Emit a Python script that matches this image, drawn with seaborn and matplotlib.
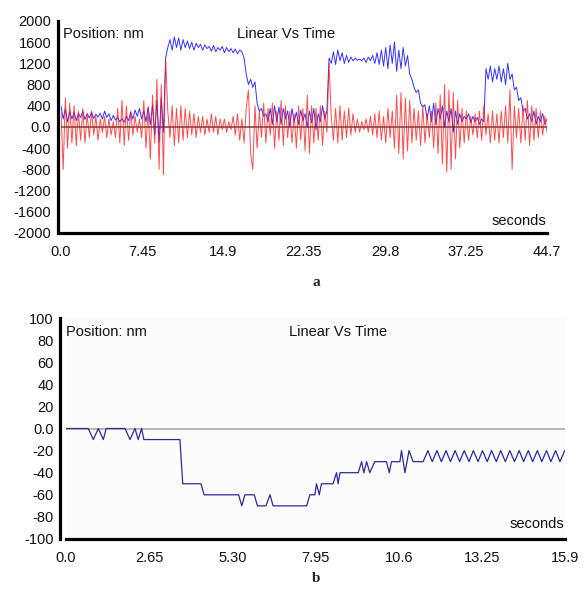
import numpy as np
import pandas as pd
import matplotlib
matplotlib.use('Agg')
import matplotlib.pyplot as plt
import seaborn as sns

# --- panel a: samples (one every ~0.2 s) ---
blue_a = [400, 150, 350, 100, 300, 150, 280, 120, 260, 180,
          300, 140, 250, 170, 280, 160, 240, 190, 260, 150,
          300, 180, 250, 120, 220, 130, 180, 100, 160, 90,
          200, 120, 280, 150, 320, 200, 350, 150, 300, 100,
          380, 50, 420, -150, 500, -300, 550, -100, 1300,
          1500, 1650, 1450, 1700, 1500, 1680, 1450, 1650, 1500, 1620,
          1480, 1600, 1450, 1580, 1500, 1560, 1450, 1550, 1480, 1520,
          1430, 1540, 1420, 1500, 1450, 1520, 1400, 1500, 1420, 1480,
          1400, 1470, 1380, 1450, 1420, 1300, 1000, 800, 900, 750,
          850, 450, 300, 350, 200, 250, 100, 350, 50, 400,
          100, 380, 50, 350, 150, 300, 0, 350, 100, 280,
          50, 320, 120, 250, 0, 300, 80, 350, -50, 250,
          100, 400, 150, 300, 1300,
          1200, 1420, 1180, 1450, 1250, 1400, 1200, 1350, 1220, 1320,
          1250, 1300, 1260, 1280, 1250, 1300, 1220, 1320, 1250, 1350,
          1200, 1400, 1180, 1450, 1150, 1500, 1100, 1550, 1200, 1600,
          1050, 1450, 1100, 1500, 1150, 1350, 1000, 900, 750, 650,
          700, 450, 380, 420, 150, 400, 100, 450, 50, 350,
          150, 400, 0, 300, 100, 350, -100, 300, 50, 250,
          100, 200, 150, 250, 80, 200, 100, 180, 50, 150,
          100, 1100,
          900, 1150, 850, 1100, 900, 1150, 850, 1100, 800, 1200,
          900, 1000, 700, 750, 500, 550, 300, 350, 150, 250,
          100, 300, 50, 200, 100, 250, 50, 150]

red_a = [300, -800, 550, -400, 450, -300, 400, -350, 300, -250,
         350, -300, 250, -200, 300, -150, 200, -250, 150, -100,
         200, -200, 150, -150, 100, -200, 350, -300, 500, -350,
         400, -250, 300, -150, 200, -100, 150, -200, 500, -400,
         350, -600, 600, -300, 900, -800, 800, -900, 1300,
         300, -200, 400, -350, 350, -300, 400, -250, 350, -200,
         300, -150, 250, -200, 200, -100, 200, -150, 150, -100,
         250, -100, 200, -150, 150, -50, 150, -100, 100, -50,
         200, -150, 250, -250, 150, -300, 350, 700, -500, -800,
         400, -400, 300, -200, 450, -300, 350, -150, 450, -400,
         300, -250, 500, -350, 400, -200, 300, -300, 250, -400,
         400, -250, 350, -450, 600, -500, 400, -300, 350, -250,
         400, -350, 300, -100, 1200,
         200, -250, 350, -300, 400, -250, 300, -200, 350, -150,
         250, -100, 150, -100, 100, -50, 150, -100, 200, -150,
         250, -200, 300, -250, 200, -300, 350, -200, 300, -400,
         600, -500, 650, -600, 550, -450, 500, -300, 350, -250,
         300, -350, 400, -300, 250, -200, 300, -400, 450, -500,
         600, -700, 800, -850, 700, -800, 650, -600, 500, -400,
         350, -300, 300, -250, 200, -150, 250, -200, 300, -250,
         400, -150, 250, -300, 300, -250, 250, -300, 300, -200,
         400, -300, 700, -800, 400, -200, 350, -300, 400, -250,
         500, -350, 400, -250, 350, -200, 300, -150, 200, -100]

ticks_a = [0.0, 7.45, 14.9, 22.35, 29.8, 37.25, 44.7]
ticklabels_a = ['0.0', '7.45', '14.9', '22.35', '29.8', '37.25', '44.7']
yticks_a = [2000, 1600, 1200, 800, 400, 0, -400, -800, -1200, -1600, -2000]
yticklabels_a = ['2000', '1600', '1200', '800', '400', '0.0', '-400', '-800',
                 '-1200', '-1600', '-2000']

# --- panel b: vertices of the step trace ---
time_b = [0, 0.71, 0.87, 1.03, 1.19, 1.28, 1.88, 2.04, 2.2, 2.3, 2.41, 2.48,
          3.63, 3.72, 4.3, 4.4, 5.5, 5.6, 5.7, 6.0, 6.1, 6.37, 6.5, 6.6,
          7.67, 7.77, 7.93, 7.98, 8.07, 8.14, 8.51, 8.62, 8.67, 8.73,
          9.31, 9.42, 9.49, 9.58, 9.68, 9.84, 10.21, 10.30, 10.37, 10.64,
          10.69, 10.80, 10.93, 11.06, 11.38,
          11.53, 11.67, 11.82, 11.96, 12.11, 12.25, 12.40, 12.54, 12.69, 12.84,
          12.98, 13.13, 13.27, 13.42, 13.56, 13.71, 13.85, 14.00, 14.14, 14.29,
          14.44, 14.58, 14.73, 14.87, 15.02, 15.16, 15.31, 15.45, 15.60, 15.74,
          15.89]
pos_b = [0, 0, -10, 0, -10, 0, 0, -10, 0, -10, 0, -10,
         -10, -50, -50, -60, -60, -70, -60, -60, -70, -70, -60, -70,
         -70, -60, -60, -50, -60, -50, -50, -40, -50, -40,
         -40, -30, -40, -30, -40, -30, -30, -40, -30, -30,
         -20, -40, -20, -30, -30,
         -20, -30, -20, -30, -20, -30, -20, -30, -20, -30,
         -20, -30, -20, -30, -20, -30, -20, -30, -20, -30,
         -20, -30, -20, -30, -20, -30, -20, -30, -20, -30,
         -20]

ticks_b = [0.0, 2.65, 5.30, 7.95, 10.6, 13.25, 15.9]
ticklabels_b = ['0.0', '2.65', '5.30', '7.95', '10.6', '13.25', '15.9']
yticks_b = [100, 80, 60, 40, 20, 0, -20, -40, -60, -80, -100]
yticklabels_b = ['100', '80', '60', '40', '20', '0.0', '-20', '-40', '-60',
                 '-80', '-100']

sns.set_style('white')
plt.rcParams['font.family'] = ['Liberation Sans', 'DejaVu Sans']

df_a = pd.DataFrame({'t': np.linspace(0, 44.7, len(blue_a)), 'pos': blue_a})
df_r = pd.DataFrame({'t': np.linspace(0, 44.7, len(red_a)), 'pos': red_a})
df_b = pd.DataFrame({'t': time_b, 'pos': pos_b})

fig = plt.figure(figsize=(5.87, 5.92), dpi=100)
W, H = 587, 592
ax1 = fig.add_axes([61 / W, 1 - 233 / H, 486 / W, 212 / H])
ax2 = fig.add_axes([66 / W, 1 - 539 / H, 499 / W, 221 / H])


def style_axis(ax):
    for s in ['top', 'right']:
        ax.spines[s].set_visible(False)
    for s in ['left', 'bottom']:
        ax.spines[s].set_linewidth(2.3)
        ax.spines[s].set_color('black')
    ax.tick_params(axis='both', direction='out', length=3.5, width=0.8,
                   color='#888888', labelsize=10.5, labelcolor='#111111')
    ax.tick_params(axis='y', pad=1.5)
    ax.tick_params(axis='x', pad=5)
    ax.set_xlabel('')
    ax.set_ylabel('')


# panel a
ax1.axhline(0, color='#7a7070', lw=1.4, zorder=1)
sns.lineplot(data=df_a, x='t', y='pos', ax=ax1, color='#1010ff', lw=0.7,
             alpha=0.85, zorder=2)
sns.lineplot(data=df_r, x='t', y='pos', ax=ax1, color='#ff1010', lw=0.7,
             alpha=0.75, zorder=3)
ax1.set_xlim(0, 44.7)
ax1.set_ylim(-2000, 2000)
ax1.set_xticks(ticks_a, ticklabels_a)
ax1.set_yticks(yticks_a, yticklabels_a)
style_axis(ax1)
ax1.spines['left'].set_position(('outward', 2))
ax1.text(0.005, 0.97, 'Position: nm', transform=ax1.transAxes, fontsize=10.5,
         va='top', ha='left', color='#111111')
ax1.text(0.463, 0.97, 'Linear Vs Time', transform=ax1.transAxes, fontsize=10.5,
         va='top', ha='center', color='#111111')
ax1.text(0.998, 0.025, 'seconds', transform=ax1.transAxes, fontsize=10.5,
         va='bottom', ha='right', color='#111111')

# panel b
ax2.set_facecolor('#fcfcfc')
ax2.axhline(0, color='#a8a8a8', lw=1.2, zorder=1)
sns.lineplot(data=df_b, x='t', y='pos', ax=ax2, color='#2b2b99', lw=0.9,
             zorder=2)
ax2.set_xlim(0, 15.9)
ax2.set_ylim(-100, 100)
ax2.set_xticks(ticks_b, ticklabels_b)
ax2.set_yticks(yticks_b, yticklabels_b)
style_axis(ax2)
ax2.spines['left'].set_position(('outward', 4))
ax2.text(0.0, 0.97, 'Position: nm', transform=ax2.transAxes, fontsize=10.5,
         va='top', ha='left', color='#111111')
ax2.text(0.545, 0.97, 'Linear Vs Time', transform=ax2.transAxes, fontsize=10.5,
         va='top', ha='center', color='#111111')
ax2.text(0.998, 0.035, 'seconds', transform=ax2.transAxes, fontsize=10.5,
         va='bottom', ha='right', color='#111111')

fig.text(316 / W, 1 - 283 / H, 'a', fontsize=11, fontweight='bold',
         family='Liberation Serif', ha='center', va='center')
fig.text(316 / W, 1 - 578 / H, 'b', fontsize=11, fontweight='bold',
         family='Liberation Serif', ha='center', va='center')

fig.savefig('out.png', dpi=100)
